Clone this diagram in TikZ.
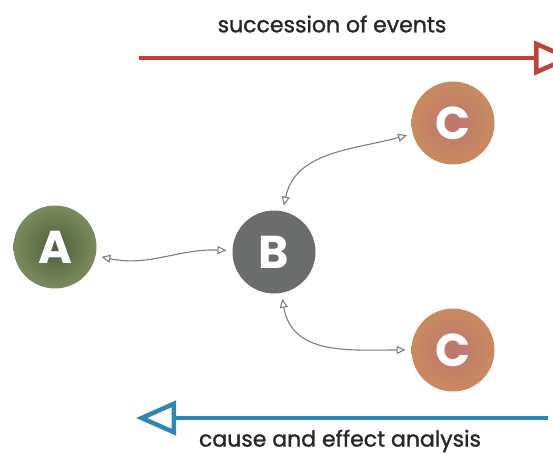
\documentclass[tikz,border=0pt]{standalone}
\usepackage{fontspec}
\setmainfont{Poppins}
\newfontfamily\capfont{Poppins}[FakeBold=1.2]
\usepackage{tikz}
\usetikzlibrary{arrows.meta, positioning}
\definecolor{evred}{HTML}{C2403B}
\definecolor{anblue}{HTML}{2F86B6}
\definecolor{agreen}{HTML}{7A8B5C}
\definecolor{agreendark}{HTML}{4F5F3E}
\definecolor{bgrey}{HTML}{6A6D6C}
\definecolor{corange}{HTML}{C98A5F}
\definecolor{cpink}{HTML}{B0687A}
\definecolor{linkgrey}{HTML}{7C7F80}
\tikzset{
    event/.style={circle, minimum size=83pt, inner sep=0pt, outer sep=6pt, text=white, font=\fontsize{46}{46}\selectfont\bfseries},
    anode/.style={event, shading=radial, inner color=agreendark, outer color=agreen},
    bnode/.style={event, fill=bgrey},
    cnode/.style={event, shading=radial, inner color=cpink!55!corange, outer color=corange},
    link/.style={draw=linkgrey, line width=1.1pt, {Triangle[open, length=9pt, width=8pt]}-{Triangle[open, length=9pt, width=8pt]}},
    timearrow/.style={line width=4.5pt, -{Triangle[open, length=40pt, width=34pt, line width=4.5pt]}},
    caption/.style={font=\capfont\fontsize{22}{22}\selectfont, text=black!85}
}

\begin{document}
\begin{tikzpicture}[x=1pt, y=-1pt]
    \useasboundingbox (0,0) rectangle (553,454);

    % timeline at the top
    \coordinate (evstart) at (139,58);
    \coordinate (evend) at (574,58);
    \draw [timearrow, evred] (evstart) -- (evend);
    \node (evtext) [caption] at (332,24) {succession of events};

    % the events
    \node (a) [anode] at (55,247) {A};
    \node (b) [bnode] at (274,252) {B};
    \node (c1) [cnode] at (453,123) {C};
    \node (c2) [cnode] at (453,350) {C};

    \draw [link] (a) to[out=-12, in=178] (b);
    \draw [link] (b) to[out=78, in=195] (c1);
    \draw [link] (b) to[out=-80, in=180, looseness=1.1] (c2);

    % analysis at the bottom
    \coordinate (anstart) at (548,418);
    \coordinate (anend) at (136,418);
    \draw [timearrow, anblue] (anstart) -- (anend);
    \node (antext) [caption] at (340,441) {cause and effect analysis};
\end{tikzpicture}
\end{document}
